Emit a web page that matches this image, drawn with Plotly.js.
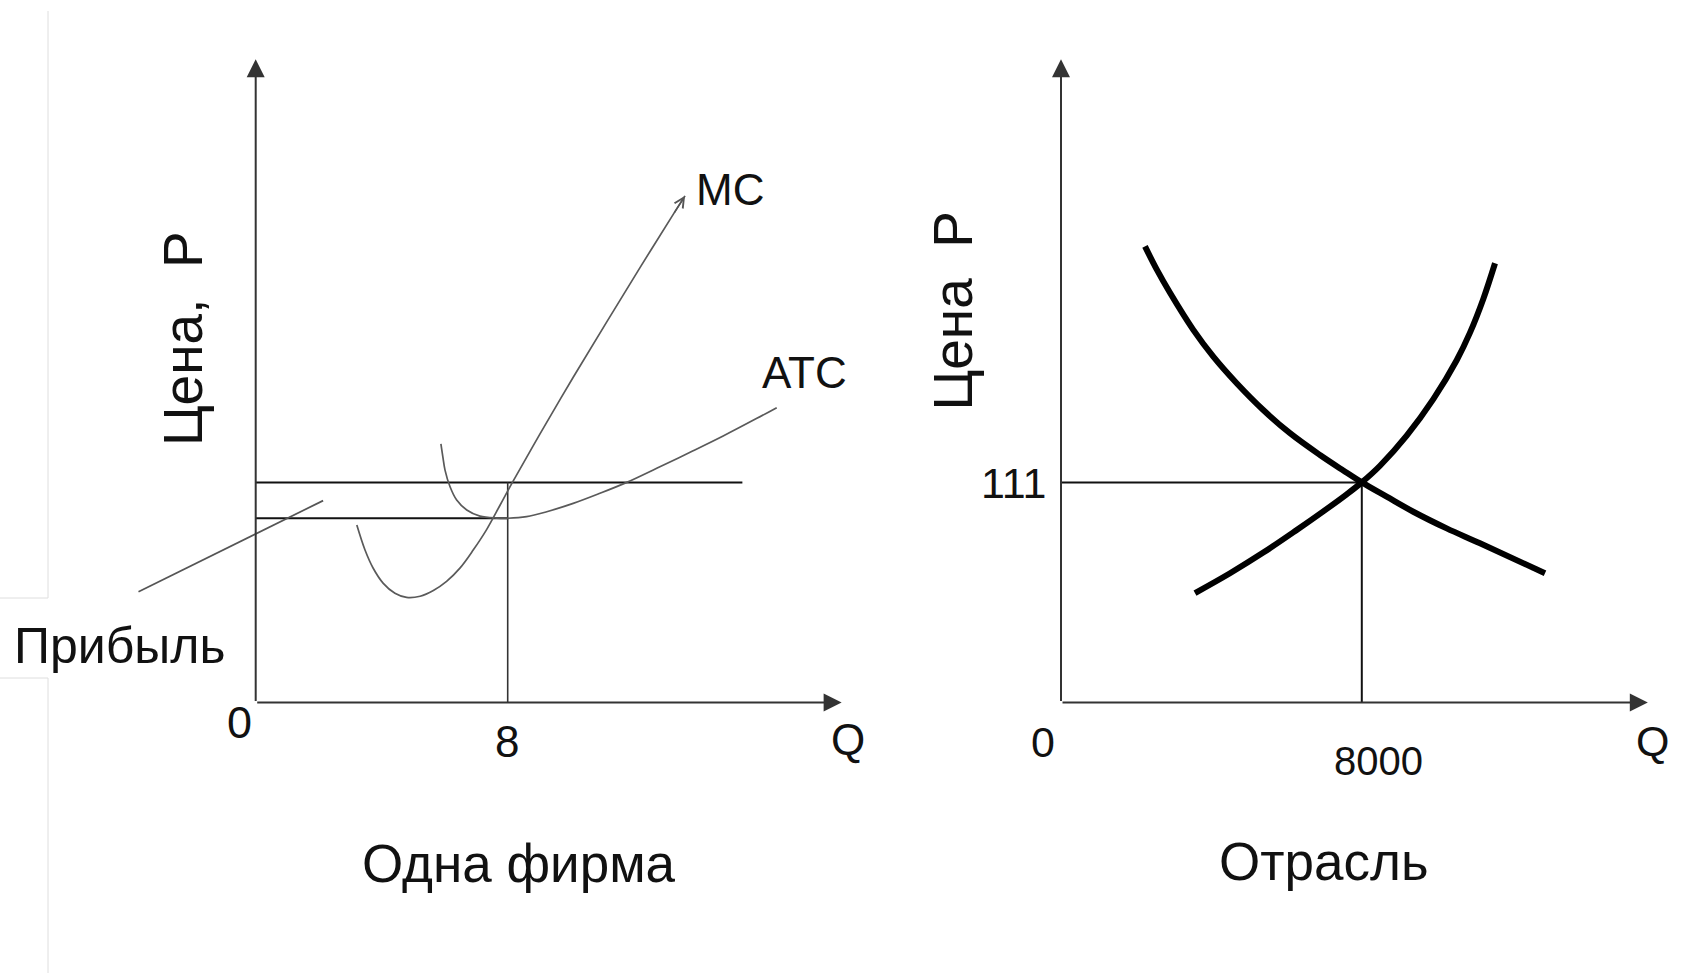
<!DOCTYPE html>
<html>
<head>
<meta charset="utf-8">
<script src="https://cdn.plot.ly/plotly-3.0.1.min.js"></script>
<style>
html,body{margin:0;padding:0;background:#ffffff;overflow:hidden}
#chart{width:1692px;height:973px}
</style>
</head>
<body>
<div id="chart"></div>
<script>
// ================= DATA =================
// Firm panel ("Одна фирма")
const firmEquilibriumQ = 8;
const marketPrice = 111;
const firmAtcMin = 92.9;
const firmPriceLineQ = [0, 15.45];
const mcQ = [3.21, 3.47, 3.73, 4.05, 4.42, 4.79, 5.22, 5.64, 6.06, 6.49, 6.91, 7.33, 7.76, 8.15, 9.03, 10.08, 11.14, 12.2, 13.26, 13.63];
const mcP = [89.5, 76.9, 67.7, 60.1, 55.1, 53.0, 53.6, 56.5, 61.1, 67.9, 77.0, 87.2, 99.6, 111, 135.6, 164.0, 191.8, 219.3, 246.3, 255.5];
const atcQ = [5.88, 5.94, 6.01, 6.17, 6.38, 6.70, 7.12, 7.65, 8.0, 8.60, 9.24, 10.08, 10.93, 11.78, 12.73, 13.79, 14.84, 15.91, 16.54];
const atcP = [130.4, 124.0, 117.2, 108.8, 102.1, 97.1, 94.0, 93.0, 92.9, 93.7, 96.2, 100.4, 105.5, 111.0, 118.1, 126.2, 134.4, 143.3, 148.7];
const profitPointerQ = [-3.72, 2.14];
const profitPointerP = [55.9, 101.8];
const firmAxisMaxQ = 18.6;

// Industry panel ("Отрасль")
const industryEquilibriumQ = 8000;
const demandQ = [2234, 2545, 2899, 3519, 4051, 4673, 5380, 6090, 6888, 7508, 8000, 8662, 9370, 10258, 11144, 12872];
const demandP = [230.0, 218.4, 206.6, 187.9, 174.4, 161.0, 147.5, 135.8, 124.8, 117.0, 111, 103.8, 96.2, 87.8, 80.3, 65.2];
const supplyQ = [3564, 4495, 5380, 6269, 6976, 7598, 8000, 8484, 9194, 9902, 10524, 10878, 11231, 11543];
const supplyP = [55.2, 65.2, 75.6, 87.0, 96.4, 105.0, 111, 119.4, 134.6, 153.0, 172.6, 186.5, 203.5, 221.5];
const industryAxisMaxQ = 15606;
const axisMaxP = 324.4;

// Texts
const axisOriginLabel = '0';
const quantityLabel = 'Q';
const priceLabelFirm = 'Цена,\u00a0\u00a0Р';
const priceLabelIndustry = 'Цена\u00a0\u00a0Р';
const firmTitle = 'Одна фирма';
const industryTitle = 'Отрасль';
const profitLabel = 'Прибыль';
const mcLabel = 'MC';
const atcLabel = 'ATC';

// ================= GEOMETRY =================
const W = 1692, H = 973;
const split = 0.55;
const firmPxPerQ = 31.5, indPxPerQ = 0.0376, pxPerP = 1.983;
const firmOriginPx = 255.7, indOriginPx = 1061, originPy = 702.5;

const xRange1 = [-firmOriginPx / firmPxPerQ, (split * W - firmOriginPx) / firmPxPerQ];
const xRange2 = [-(indOriginPx - split * W) / indPxPerQ, (W - indOriginPx) / indPxPerQ];
const yRange = [-(H - originPy) / pxPerP, originPy / pxPerP];

const REG = 'Liberation Sans, Arial, sans-serif';

function px(x){ return x / W; }
function py(y){ return 1 - y / H; }

function line(x, y, xa, color, width, shape){
  return {
    type: 'scatter', mode: 'lines', x: x, y: y, xaxis: xa, yaxis: 'y',
    line: {color: color, width: width, shape: shape || 'linear', smoothing: 1},
    hoverinfo: 'skip', showlegend: false
  };
}

const traces = [
  line(firmPriceLineQ, [marketPrice, marketPrice], 'x', '#111', 2),
  line([0, firmEquilibriumQ], [firmAtcMin, firmAtcMin], 'x', '#111', 2),
  line([firmEquilibriumQ, firmEquilibriumQ], [0, marketPrice], 'x', '#333', 1.6),
  line(mcQ, mcP, 'x', '#5a5a5a', 1.7, 'spline'),
  line(atcQ, atcP, 'x', '#5a5a5a', 1.7, 'spline'),
  line(profitPointerQ, profitPointerP, 'x', '#555', 1.7),
  line([0, industryEquilibriumQ], [marketPrice, marketPrice], 'x2', '#111', 2),
  line([industryEquilibriumQ, industryEquilibriumQ], [0, marketPrice], 'x2', '#111', 2),
  line(demandQ, demandP, 'x2', '#000', 6, 'spline'),
  line(supplyQ, supplyP, 'x2', '#000', 6, 'spline')
];

function axisArrow(xa, x, y){
  return {xref: xa, yref: 'y', axref: xa, ayref: 'y', x: x, y: y, ax: 0, ay: 0,
          text: '', showarrow: true, arrowhead: 2, arrowsize: 1.8, arrowwidth: 2,
          arrowcolor: '#333', standoff: 0};
}
function label(text, xpx, ypx, size, extra){
  return Object.assign({xref: 'paper', yref: 'paper', x: px(xpx), y: py(ypx),
          text: text, showarrow: false, xanchor: 'center', yanchor: 'middle',
          font: {family: REG, size: size, color: '#111'}}, extra || {});
}

const nMC = mcQ.length;
const annotations = [
  axisArrow('x', firmAxisMaxQ, 0),
  axisArrow('x', 0, axisMaxP),
  axisArrow('x2', industryAxisMaxQ, 0),
  axisArrow('x2', 0, axisMaxP),
  {xref: 'x', yref: 'y', axref: 'x', ayref: 'y', x: mcQ[nMC-1], y: mcP[nMC-1],
   ax: mcQ[nMC-2], ay: mcP[nMC-2], text: '', showarrow: true, arrowhead: 5,
   arrowsize: 1.2, arrowwidth: 1.6, arrowcolor: '#555', standoff: 0},
  label(priceLabelFirm, 182.6, 338.5, 55, {textangle: -90}),
  label(priceLabelIndustry, 952.7, 310.8, 55, {textangle: -90}),
  label(profitLabel, 119.5, 645.7, 50),
  label(firmTitle, 519, 863.3, 53),
  label(industryTitle, 1324, 861.6, 53),
  label(axisOriginLabel, 239, 722.4, 45),
  label(String(firmEquilibriumQ), 506.7, 741.8, 44),
  label(quantityLabel, 848, 739, 44),
  label(axisOriginLabel, 1042.5, 742, 43),
  label(String(industryEquilibriumQ), 1378.7, 761, 40),
  label(quantityLabel, 1652, 741, 43),
  label(String(marketPrice), 1048, 483, 43, {xanchor: 'right'}),
  label(mcLabel, 730, 189.4, 44),
  label(atcLabel, 804, 372.7, 44)
];

// faint frame remnants at the left edge of the picture
const frameColor = '#dedede';
const shapes = [
  {type: 'line', xref: 'paper', yref: 'paper', x0: px(48), x1: px(48), y0: py(11), y1: py(598), line: {color: frameColor, width: 1}},
  {type: 'line', xref: 'paper', yref: 'paper', x0: 0, x1: px(48), y0: py(598), y1: py(598), line: {color: frameColor, width: 1}},
  {type: 'line', xref: 'paper', yref: 'paper', x0: 0, x1: px(48), y0: py(678), y1: py(678), line: {color: frameColor, width: 1}},
  {type: 'line', xref: 'paper', yref: 'paper', x0: px(48), x1: px(48), y0: py(678), y1: 0, line: {color: frameColor, width: 1}}
];

const hidden = {visible: false, showgrid: false, zeroline: false, fixedrange: true};
const layout = {
  width: W, height: H,
  margin: {l: 0, r: 0, t: 0, b: 0, pad: 0},
  paper_bgcolor: '#ffffff', plot_bgcolor: '#ffffff',
  showlegend: false,
  xaxis: Object.assign({domain: [0, split], range: xRange1, anchor: 'y'}, hidden),
  xaxis2: Object.assign({domain: [split, 1], range: xRange2, anchor: 'y'}, hidden),
  yaxis: Object.assign({domain: [0, 1], range: yRange, anchor: 'x'}, hidden),
  annotations: annotations,
  shapes: shapes
};

Plotly.newPlot('chart', traces, layout, {staticPlot: true, displayModeBar: false});
</script>
</body>
</html>
